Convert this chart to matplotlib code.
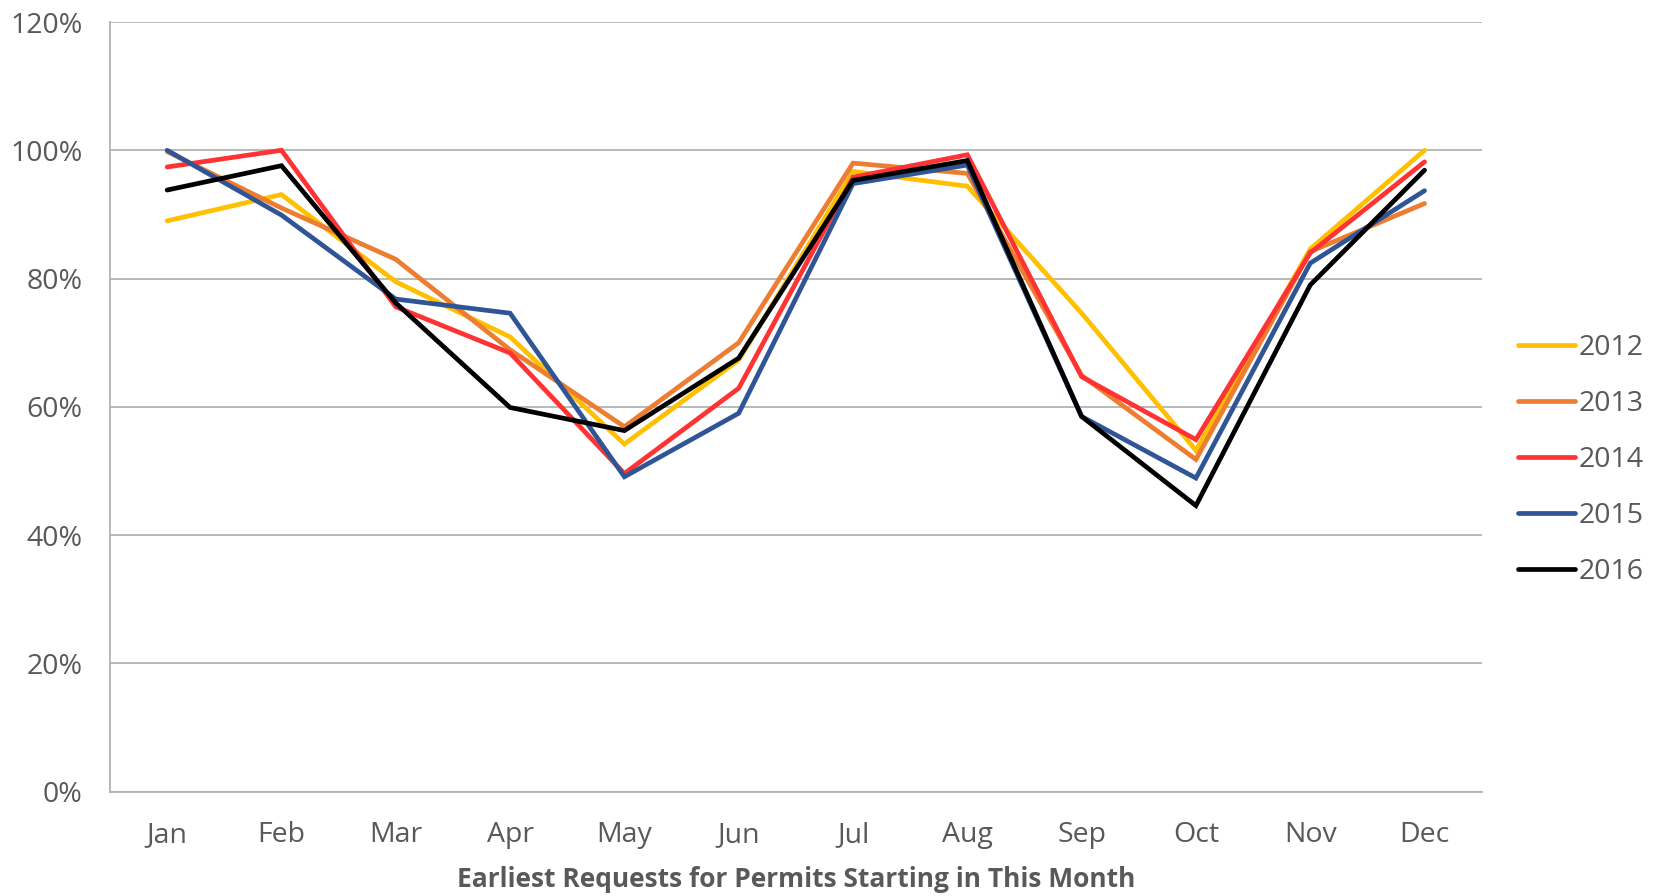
import matplotlib
matplotlib.use("Agg")
import matplotlib.pyplot as plt
from matplotlib.ticker import FuncFormatter

months = ["Jan", "Feb", "Mar", "Apr", "May", "Jun", "Jul", "Aug", "Sep", "Oct", "Nov", "Dec"]
years = ["2012", "2013", "2014", "2015", "2016"]

s2012 = [89.0, 93.1, 79.5, 70.9, 54.2, 67.3, 96.7, 94.4, 74.6, 53.2, 84.6, 100.0]
s2013 = [99.8, 91.0, 83.0, 68.9, 56.9, 70.0, 98.0, 96.4, 64.9, 51.8, 84.2, 91.7]
s2014 = [97.4, 100.0, 75.6, 68.4, 49.6, 62.9, 95.8, 99.3, 64.7, 54.9, 84.0, 98.2]
s2015 = [100.0, 89.9, 76.8, 74.6, 49.1, 59.0, 94.8, 97.7, 58.5, 48.9, 82.4, 93.7]
s2016 = [93.8, 97.6, 76.2, 59.9, 56.3, 67.6, 95.3, 98.4, 58.5, 44.6, 79.0, 96.9]

series = [s2012, s2013, s2014, s2015, s2016]
colors = ["#FFC000", "#ED7D31", "#FF3333", "#2F5597", "#000000"]

plt.rcParams['font.family'] = ['Open Sans', 'DejaVu Sans']
text_color = "#595959"

fig = plt.figure(figsize=(16.63, 8.96), dpi=100)
ax = fig.add_axes([110/1663, 1 - 791.7/896, (1481.7-110)/1663, (791.7-22)/896])

x = [i + 0.5 for i in range(len(months))]
for vals, col, lab in zip(series, colors, years):
    ax.plot(x, vals, color=col, lw=3.4, label=lab, solid_capstyle='round', solid_joinstyle='miter')

ax.set_xlim(0, 12)
ax.set_ylim(0, 120)
ax.set_yticks(range(0, 121, 20))
ax.yaxis.set_major_formatter(FuncFormatter(lambda v, p: f"{int(v)}%"))
ax.set_xticks(x)
ax.set_xticklabels(months)
ax.tick_params(axis='both', length=0, labelsize=20.5, labelcolor=text_color)
ax.tick_params(axis='y', pad=20)
ax.tick_params(axis='x', pad=21)
ax.grid(axis='y', color="#B3B3B3", lw=1.3)
ax.set_axisbelow(True)
for sp in ["top", "right"]:
    ax.spines[sp].set_visible(False)
ax.spines["left"].set_color("#B3B3B3")
ax.spines["bottom"].set_color("#B3B3B3")
ax.spines["left"].set_linewidth(1.3)
ax.spines["bottom"].set_linewidth(1.3)

ax.set_xlabel("Earliest Requests for Permits Starting in This Month",
              fontsize=19, fontweight='bold', color=text_color, labelpad=12)

leg = ax.legend(loc='center left', bbox_to_anchor=(1.018, 0.431), frameon=False,
                fontsize=20.5, handlelength=2.0, handletextpad=0.12,
                labelspacing=0.98, borderaxespad=0)
for t in leg.get_texts():
    t.set_color(text_color)

fig.savefig("out.png", dpi=100, facecolor="white")
